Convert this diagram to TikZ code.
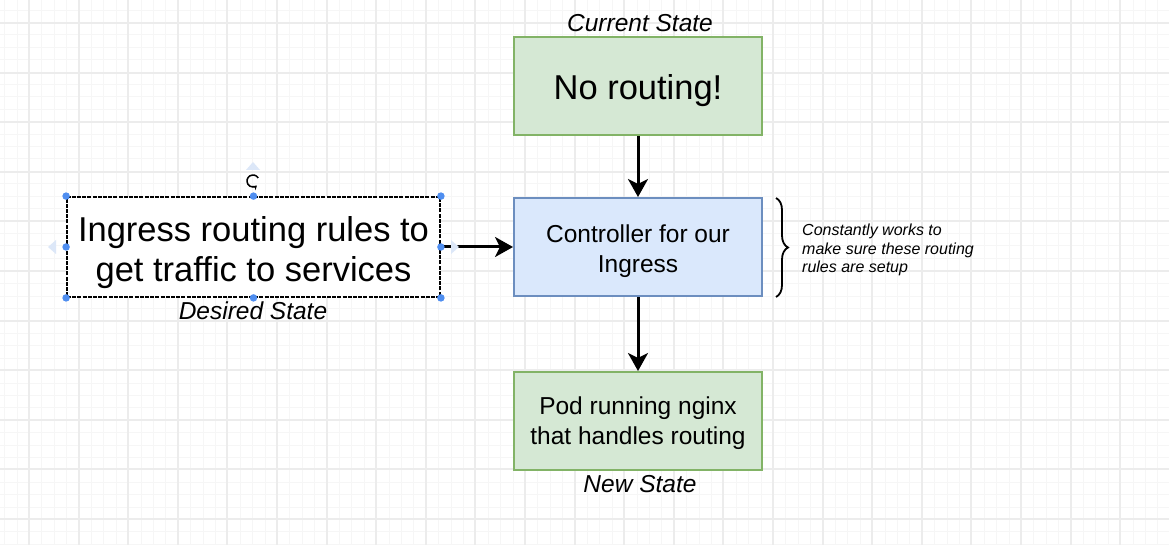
\documentclass[tikz,border=0pt]{standalone}
\usepackage{fontspec}
\setmainfont{Liberation Sans}
\usetikzlibrary{arrows.meta,decorations.pathreplacing}
\definecolor{greenfill}{HTML}{D5E8D4}
\definecolor{greenline}{HTML}{82B366}
\definecolor{bluefill}{HTML}{DAE8FC}
\definecolor{blueline}{HTML}{6C8EBF}
\definecolor{handle}{HTML}{4F8EF0}
\definecolor{hint}{HTML}{DCE7F8}
\definecolor{gridmajor}{HTML}{ECECEC}
\definecolor{gridminor}{HTML}{F6F6F6}
\tikzset{
  box/.style={line width=2pt, minimum width=248pt, minimum height=98pt,
    align=center, inner sep=0pt},
  greenbox/.style={box, draw=greenline, fill=greenfill},
  bluebox/.style={box, draw=blueline, fill=bluefill},
  rulebox/.style={draw=black, line width=1.8pt, dash pattern=on 4pt off 1.2pt,
    fill=white, minimum width=373pt, minimum height=100pt, inner sep=0pt},
  boxtext/.style={align=center, inner sep=0pt},
  bigtext/.style={boxtext, font=\fontsize{34.5}{40}\selectfont},
  midtext/.style={boxtext, font=\fontsize{24.5}{30}\selectfont},
  statelabel/.style={font=\fontsize{24.5}{30}\selectfont\itshape, inner sep=0pt},
  note/.style={font=\fontsize{16}{18.5}\selectfont\itshape, align=left, anchor=west, inner sep=0pt},
  conn/.style={line width=3pt, -{Stealth[length=18pt, width=20pt, inset=5pt]}},
  dot/.style={circle, fill=handle, inner sep=0pt, minimum size=7.5pt},
}
\begin{document}
\begin{tikzpicture}[x=1pt, y=-1pt]
\useasboundingbox (0,0) rectangle (1169,545);
\fill[white] (0,0) rectangle (1169,545);

% background grid: minor lines every 12.4, major every 49.6
\foreach \i in {-3,...,92} {
  \draw[gridminor, line width=1pt] ({round(29+\i*12.4)},0) -- ++(0,545);
}
\foreach \i in {-2,...,42} {
  \draw[gridminor, line width=1pt] (0,{round(23+\i*12.4)}) -- ++(1169,0);
}
\foreach \i in {0,...,23} {
  \draw[gridmajor, line width=1.2pt] ({round(29+\i*49.6)},0) -- ++(0,545);
}
\foreach \i in {0,...,10} {
  \draw[gridmajor, line width=1.2pt] (0,{round(23+\i*49.6)}) -- ++(1169,0);
}

% main flow: boxes
\node[greenbox] (norouting) at (638,86) {};
\node[bluebox] (ctrl) at (638,247) {};
\node[greenbox] (pod) at (638,421) {};
\node[rulebox] (rules) at (253.5,247) {};

% box texts
\node[bigtext] (noroutingtext) at (638,91) {No routing!};
\node[midtext] (ctrltext) at (638,251) {Controller for our\\Ingress};
\node[midtext] (podtext) at (638,423.5) {Pod running nginx\\that handles routing};
\node[bigtext] (rulestext) at (253.5,253) {Ingress routing rules to\\get traffic to services};

\node[statelabel] (current) at (640,23) {Current State};
\node[statelabel] (desired) at (253,311) {Desired State};
\node[statelabel] (newstate) at (640,484) {New State};

\draw[conn] (rules.east) -- (ctrl.west);
\draw[conn] (norouting.south) -- (ctrl.north);
\draw[conn] (ctrl.south) -- (pod.north);

% brace with the controller note
\coordinate (bracetop) at (776,198);
\coordinate (bracebot) at (776,297);
\draw[decorate, decoration={brace, amplitude=12pt}, line width=1.8pt] (bracetop) -- (bracebot);
\node[note] (worknote) at (802,250) {Constantly works to\\make sure these routing\\rules are setup};

% selection handles around the rules box
\foreach \a in {north west, north, north east, west, east, south west, south, south east} {
  \node[dot] at (rules.\a) {};
}
\fill[hint] (246,170) -- (260,170) -- (253,162) -- cycle;
\fill[hint] (56,240) -- (56,254) -- (48,247) -- cycle;
\fill[hint] (451,240) -- (451,254) -- (459,247) -- cycle;
\coordinate (rotate) at (253,181);
\draw[line width=1.5pt, -{Stealth[length=4pt, width=5.5pt]}] (rotate) ++(-30:6) arc (-30:-310:6);
\end{tikzpicture}
\end{document}
